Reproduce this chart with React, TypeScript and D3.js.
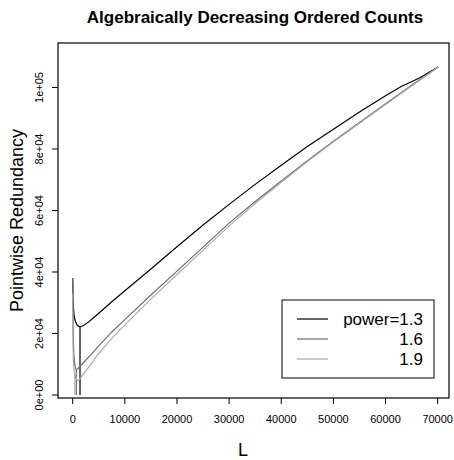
import React from "react";
import * as d3 from "d3";

const title = "Algebraically Decreasing Ordered Counts";
const xLabel = "L";
const yLabel = "Pointwise Redundancy";
const seriesNames = ["power=1.3", "1.6", "1.9"];
const seriesColors = ["#000000", "#6e6e6e", "#ababab"];

const xTicks = [0, 10000, 20000, 30000, 40000, 50000, 60000, 70000];
const yTicks = [0, 20000, 40000, 60000, 80000, 100000];
const yTickLabels = ["0e+00", "2e+04", "4e+04", "6e+04", "8e+04", "1e+05"];

// power = 1.3
const spikeL13 = [0, 50, 150, 300, 500, 800, 1100, 1400];
const spikeR13 = [38000, 32000, 28000, 25500, 24000, 22900, 22400, 22200];
const riseL13 = [1400, 2000, 3000, 4000, 5000, 7500, 10000, 15000, 20000, 25000, 30000, 35000, 40000, 45000, 50000, 55000, 60000, 63000, 66400, 70100];
const riseR13 = [22200, 22500, 23700, 25100, 26600, 30300, 33900, 41000, 48200, 55300, 62000, 68500, 74700, 80800, 86400, 92000, 97300, 100300, 103000, 106700];

// power = 1.6
const spikeL16 = [0, 30, 80, 150, 250, 400, 550, 700];
const spikeR16 = [38000, 31000, 23000, 16500, 12500, 10000, 8800, 8100];
const riseL16 = [700, 1500, 2500, 3500, 5000, 7500, 10000, 15000, 20000, 25000, 30000, 35000, 40000, 45000, 50000, 55000, 60000, 65000, 70100];
const riseR16 = [8100, 9500, 11300, 13100, 16000, 20500, 24500, 32500, 40300, 48100, 55900, 62900, 69600, 76200, 82500, 88600, 94700, 100700, 106700];

// power = 1.9
const spikeL19 = [0, 25, 60, 120, 220, 400, 650, 900, 1100];
const spikeR19 = [33000, 24000, 16500, 11500, 8500, 6500, 5400, 4900, 4700];
const riseL19 = [1100, 2000, 3000, 4000, 5000, 7500, 10000, 15000, 20000, 25000, 30000, 35000, 40000, 45000, 50000, 55000, 60000, 65000, 70100];
const riseR19 = [4700, 6600, 8900, 11200, 13500, 18400, 22800, 31200, 39200, 47100, 55000, 62300, 69200, 75900, 82300, 88400, 94500, 100500, 106600];

// vertical drops to zero
const dropL = [1400, 700, 400];
const dropR = [22200, 8100, 6500];

const seriesData = [
  { spikeL: spikeL13, spikeR: spikeR13, riseL: riseL13, riseR: riseR13 },
  { spikeL: spikeL16, spikeR: spikeR16, riseL: riseL16, riseR: riseR16 },
  { spikeL: spikeL19, spikeR: spikeR19, riseL: riseL19, riseR: riseR19 },
];

const W = 454;
const H = 460;
const box = { left: 58, top: 43, right: 449, bottom: 398 };
const font = "'Liberation Sans', Arial, Helvetica, sans-serif";

export default function App() {
  const x = d3.scaleLinear().domain([-2820, 72170]).range([box.left, box.right]);
  const y = d3.scaleLinear().domain([-976, 114470]).range([box.bottom, box.top]);
  const line = d3
    .line<[number, number]>()
    .x((d) => x(d[0]))
    .y((d) => y(d[1]));

  const legend = { left: 282, right: 434, top: 300, bottom: 378 };
  const rowY = [319, 339, 359];

  return (
    <svg
      width={W}
      height={H}
      style={{ position: "absolute", left: 0, top: 0, background: "#fff" }}
      fontFamily={font}
    >
      <rect x={0} y={0} width={W} height={H} fill="#fff" />
      <text x={255} y={23} textAnchor="middle" fontWeight="bold" fontSize={17}>
        {title}
      </text>

      <defs>
        <clipPath id="plotclip">
          <rect x={box.left} y={box.top} width={box.right - box.left} height={box.bottom - box.top} />
        </clipPath>
      </defs>

      <g clipPath="url(#plotclip)">
        {seriesData.map((s, i) => {
          const pts: [number, number][] = [
            ...s.spikeL.map((l, k) => [l, s.spikeR[k]] as [number, number]),
            ...s.riseL.map((l, k) => [l, s.riseR[k]] as [number, number]),
          ];
          return (
            <g key={i}>
              <path d={line(pts) || ""} fill="none" stroke={seriesColors[i]} strokeWidth={1.2} />
              <path
                d={line([[dropL[i], dropR[i]], [dropL[i], 0]]) || ""}
                fill="none"
                stroke={seriesColors[i]}
                strokeWidth={1.2}
              />
            </g>
          );
        })}
      </g>

      <rect
        x={box.left}
        y={box.top}
        width={box.right - box.left}
        height={box.bottom - box.top}
        fill="none"
        stroke="#000"
        strokeWidth={1.2}
      />

      {xTicks.map((t) => (
        <g key={t}>
          <line x1={x(t)} x2={x(t)} y1={box.bottom} y2={box.bottom + 6} stroke="#000" />
          <text x={x(t)} y={423} textAnchor="middle" fontSize={11}>
            {t}
          </text>
        </g>
      ))}
      {yTicks.map((t, i) => (
        <g key={t}>
          <line x1={box.left - 6} x2={box.left} y1={y(t)} y2={y(t)} stroke="#000" />
          <text
            transform={`translate(43,${y(t)}) rotate(-90)`}
            textAnchor="middle"
            fontSize={11}
          >
            {yTickLabels[i]}
          </text>
        </g>
      ))}

      <text x={243} y={456} textAnchor="middle" fontSize={18}>
        {xLabel}
      </text>
      <text transform={`translate(23,${(box.top + box.bottom) / 2}) rotate(-90)`} textAnchor="middle" fontSize={18}>
        {yLabel}
      </text>

      <rect
        x={legend.left}
        y={legend.top}
        width={legend.right - legend.left}
        height={legend.bottom - legend.top}
        fill="#fff"
        stroke="#000"
        strokeWidth={1}
      />
      {seriesNames.map((n, i) => (
        <g key={n}>
          <line x1={297} x2={328} y1={rowY[i]} y2={rowY[i]} stroke={seriesColors[i]} strokeWidth={1.2} />
          <text x={423} y={rowY[i] + 6} textAnchor="end" fontSize={17}>
            {n}
          </text>
        </g>
      ))}
    </svg>
  );
}
